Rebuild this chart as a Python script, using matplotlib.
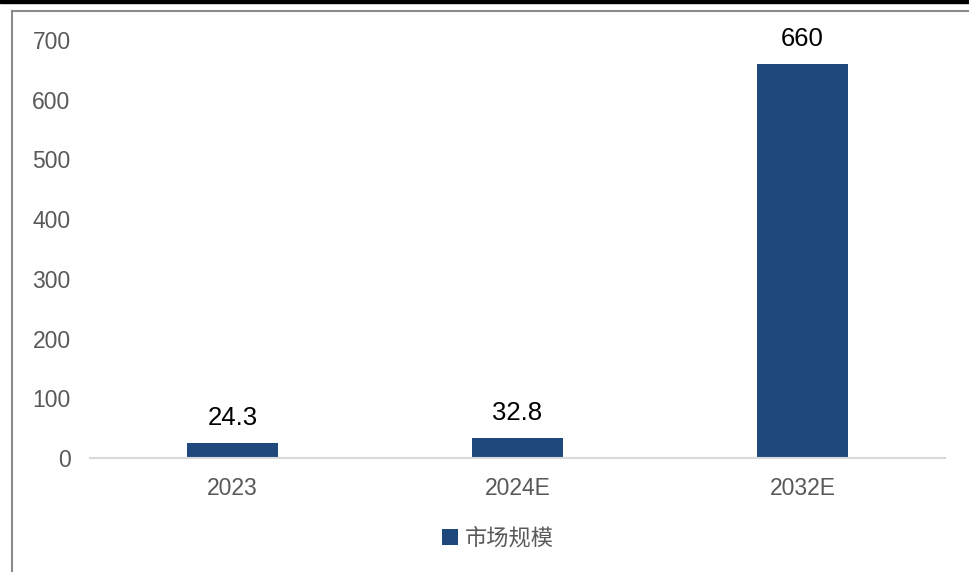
import numpy as np
import matplotlib.pyplot as plt
from matplotlib.lines import Line2D
from matplotlib.patches import Rectangle

categories = ["2023", "2024E", "2032E"]
values = [24.3, 32.8, 660]
series_name = "市场规模"

plt.rcParams['font.family'] = ['Liberation Sans', 'Noto Sans CJK SC', 'DejaVu Sans']

fig = plt.figure(figsize=(9.7, 5.72), dpi=100)
ax = fig.add_axes([90 / 970, 1 - 458 / 572, 855 / 970, (458 - 40) / 572])

bar_color = "#1f497d"
x = np.arange(len(categories))
bars = ax.bar(x, values, width=0.32, color=bar_color, label=series_name)

for xi, v in zip(x, values):
    ax.text(xi, v + 22, f"{v:g}", ha="center", va="bottom", fontsize=18.5, color="black")

ax.set_xlim(-0.5, len(categories) - 0.5)
ax.set_ylim(0, 700)
ax.set_yticks(np.arange(0, 701, 100))
ax.set_xticks(x)
ax.set_xticklabels(categories)
ax.tick_params(axis="both", length=0, labelsize=16.5, labelcolor="#595959")
ax.tick_params(axis="y", pad=14)
ax.tick_params(axis="x", pad=14)

for s in ["top", "right", "left"]:
    ax.spines[s].set_visible(False)
ax.spines["bottom"].set_color("#d9d9d9")
ax.spines["bottom"].set_linewidth(1.5)

# outer frame and top band
fig.patches.append(Rectangle((0, 1 - 3 / 572), 1, 3 / 572, transform=fig.transFigure,
                             color="black", zorder=5))
fig.lines.append(Line2D([12 / 970, 1], [1 - 11 / 572, 1 - 11 / 572], transform=fig.transFigure,
                        color="#8c8c8c", lw=1.5))
fig.lines.append(Line2D([12 / 970, 12 / 970], [0, 1 - 11 / 572], transform=fig.transFigure,
                        color="#8c8c8c", lw=1.5))

leg = fig.legend(handles=[bars], labels=[series_name], loc="center",
                 bbox_to_anchor=(498 / 970, 1 - 538 / 572), frameon=False,
                 handlelength=0.7, handleheight=0.7, handletextpad=0.3,
                 prop={"family": ["Noto Sans CJK SC"], "size": 16})
for t in leg.get_texts():
    t.set_color("#595959")

fig.savefig("out.png", dpi=100)
